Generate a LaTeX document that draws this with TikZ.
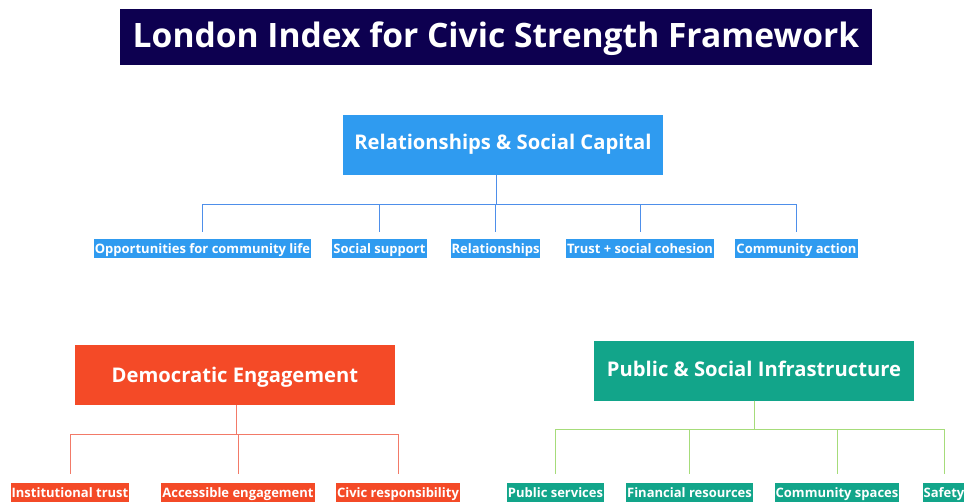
\documentclass[tikz,border=0pt]{standalone}
\usepackage{fontspec}
\setmainfont{Open Sans}
\usetikzlibrary{calc}
\definecolor{navy}{HTML}{0D0050}
\definecolor{rblue}{HTML}{2F9BF0}
\definecolor{rred}{HTML}{F44A27}
\definecolor{rteal}{HTML}{12A58A}
\definecolor{lblue}{HTML}{4E8FEA}
\definecolor{lred}{HTML}{F27A68}
\definecolor{lgreen}{HTML}{A6DC7A}
\begin{document}
\begin{tikzpicture}[x=1pt,y=-1pt,
  head/.style={fill=#1,text=white,font=\bfseries\fontsize{20.2}{23}\selectfont,minimum width=320pt,minimum height=60pt,inner sep=0pt,text height=15pt,text depth=7pt},
  leaf/.style={fill=#1,text=white,font=\bfseries\fontsize{13}{15}\selectfont,inner xsep=1pt,inner ysep=0pt,minimum height=19pt,text height=14.5pt,text depth=4.5pt},
  conn/.style={draw=#1,line width=1pt}]
\useasboundingbox (0,0) rectangle (964,501);
\node[fill=navy,text=white,font=\bfseries\fontsize{33.6}{38}\selectfont,minimum width=752pt,minimum height=56pt,inner sep=0pt,text height=24pt,text depth=3pt] (title) at (496,37) {London Index for Civic Strength Framework};
% Relationships
\node[head=rblue] (rsc) at (503,145) {Relationships \& Social Capital};
\node[leaf=rblue] (r1) at (202.5,248.5) {Opportunities for community life};
\node[leaf=rblue] (r2) at (379.5,248.5) {Social support};
\node[leaf=rblue] (r3) at (495.5,248.5) {Relationships};
\node[leaf=rblue] (r4) at (640,248.5) {Trust + social cohesion};
\node[leaf=rblue] (r5) at (796.5,248.5) {Community action};
\coordinate (rbus) at (496,204);
\foreach \c in {r1,r2,r3,r4,r5}
  \draw[conn=lblue] (rsc.south -| rbus) -- (rbus) -| ([yshift=7pt]\c.north);
% Democratic
\node[head=rred,text height=15pt,text depth=1pt] (de) at (235,375) {Democratic Engagement};
\node[leaf=rred] (d1) at (70,492.5) {Institutional trust};
\node[leaf=rred] (d2) at (238,492.5) {Accessible engagement};
\node[leaf=rred] (d3) at (398,492.5) {Civic responsibility};
\coordinate (dbus) at (236,434);
\foreach \c in {d1,d2,d3}
  \draw[conn=lred] (de.south -| dbus) -- (dbus) -| ([yshift=9pt]\c.north);
% Public
\node[head=rteal,text height=15pt,text depth=4pt] (psi) at (754,370.5) {Public \& Social Infrastructure};
\node[leaf=rteal] (p1) at (555.5,492.5) {Public services};
\node[leaf=rteal] (p2) at (689.5,492.5) {Financial resources};
\node[leaf=rteal] (p3) at (837,492.5) {Community spaces};
\node[leaf=rteal] (p4) at (944,492.5) {Safety};
\coordinate (pbus) at (754,429);
\foreach \c in {p1,p2,p3,p4}
  \draw[conn=lgreen] (psi.south -| pbus) -- (pbus) -| ([yshift=9pt]\c.north);
\end{tikzpicture}
\end{document}
